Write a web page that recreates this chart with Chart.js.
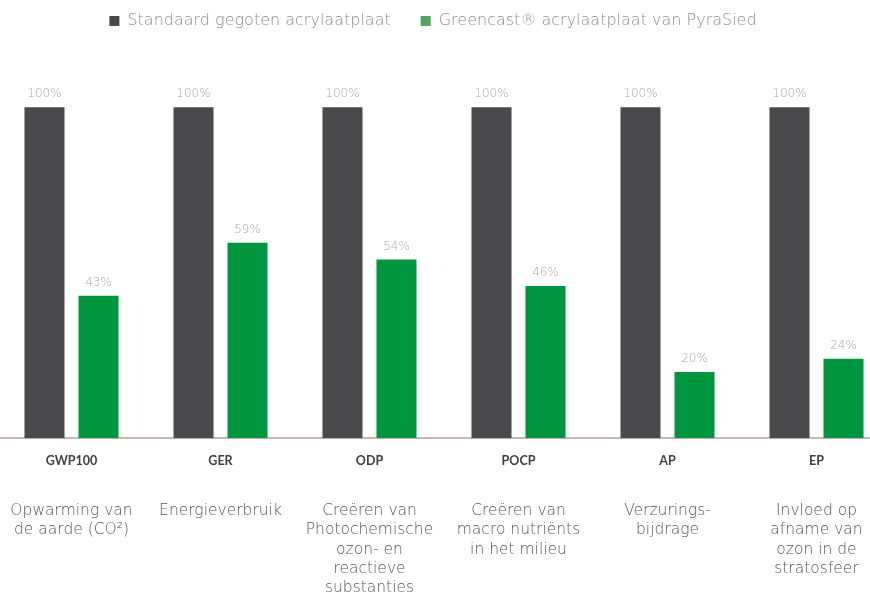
<!DOCTYPE html>
<html>
<head>
<meta charset="utf-8">
<script src="https://cdn.jsdelivr.net/npm/chart.js@4"></script>
<style>
    html, body { margin: 0; padding: 0; background: #fff; overflow: hidden; }
    #wrap { position: absolute; left: -3px; top: 0; width: 894px; height: 594px; }
</style>
</head>
<body>
<div id="wrap"><canvas id="chart"></canvas></div>
<script>
const codes = ["GWP100", "GER", "ODP", "POCP", "AP", "EP"];
const descriptions = [
    ["Opwarming van", "de aarde (CO²)"],
    ["Energieverbruik"],
    ["Creëren van", "Photochemische", "ozon- en", "reactieve", "substanties"],
    ["Creëren van", "macro nutriënts", "in het milieu"],
    ["Verzurings-", "bijdrage"],
    ["Invloed op", "afname van", "ozon in de", "stratosfeer"]
];
const standardValues = [100, 100, 100, 100, 100, 100];
const greencastValues = [43, 59, 54, 46, 20, 24];
const seriesNames = ["Standaard gegoten acrylaatplaat", "Greencast® acrylaatplaat van PyraSied"];
const barColors = ["#4a494b", "#00963f"];
const legendColors = ["#4a494b", "#4fa55b"];

const lightFont = "'DejaVu Sans', sans-serif";
const boldFont = "Lato, 'Open Sans', sans-serif";

// draws the "100%" style labels above each bar
const valueLabels = {
    id: "valueLabels",
    afterDatasetsDraw(chart) {
        const ctx = chart.ctx;
        ctx.save();
        ctx.font = "200 12px " + lightFont;
        ctx.fillStyle = "#a6a6a6";
        ctx.textAlign = "center";
        ctx.textBaseline = "bottom";
        chart.data.datasets.forEach((ds, i) => {
            chart.getDatasetMeta(i).data.forEach((bar, j) => {
                ctx.fillText(ds.data[j] + "%", bar.x, bar.y - 7);
            });
        });
        ctx.restore();
    }
};

// legend sits a little left of centre in the original
const legendShift = {
    id: "legendShift",
    afterLayout(chart) {
        chart.legend.left -= 11;
        chart.legend.right -= 11;
    }
};

// keep the wide tick labels from squeezing the plot sideways
function noSidePadding(scale) {
    scale.paddingLeft = 0;
    scale.paddingRight = 0;
}

new Chart(document.getElementById("chart"), {
    type: "bar",
    data: {
        labels: codes,
        datasets: [{
            label: seriesNames[0],
            data: standardValues,
            backgroundColor: barColors[0]
        }, {
            label: seriesNames[1],
            data: greencastValues,
            backgroundColor: barColors[1]
        }]
    },
    options: {
        responsive: true,
        maintainAspectRatio: false,
        animation: false,
        categoryPercentage: 0.725,
        barPercentage: 0.741,
        layout: { padding: { top: -17, bottom: -22, left: 0, right: 0 } },
        plugins: {
            tooltip: { enabled: false },
            legend: {
                position: "top",
                labels: {
                    boxWidth: 10,
                    boxHeight: 10,
                    padding: 30,
                    color: "#8c8c8c",
                    font: { family: lightFont, size: 16, weight: "200" },
                    generateLabels(chart) {
                        return chart.data.datasets.map((ds, i) => ({
                            text: ds.label,
                            fillStyle: legendColors[i],
                            strokeStyle: legendColors[i],
                            lineWidth: 0,
                            fontColor: "#8c8c8c",
                            datasetIndex: i
                        }));
                    }
                }
            }
        },
        scales: {
            y: {
                display: false,
                min: 0,
                max: 120.6
            },
            x: {
                position: "bottom",
                afterFit: noSidePadding,
                grid: { display: false, drawTicks: false },
                border: { display: true, color: "#c8b6b4", width: 2 },
                ticks: {
                    color: "#404040",
                    padding: 15,
                    maxRotation: 0,
                    font: { family: boldFont, size: 12.5, weight: "bold" }
                }
            },
            x2: {
                type: "category",
                position: "bottom",
                labels: descriptions,
                afterFit: noSidePadding,
                grid: { display: false, drawTicks: false },
                border: { display: false },
                ticks: {
                    color: "#555555",
                    padding: 18,
                    maxRotation: 0,
                    font: { family: lightFont, size: 15.5, weight: "200", lineHeight: 1.25 }
                }
            }
        }
    },
    plugins: [valueLabels, legendShift]
});
</script>
</body>
</html>
